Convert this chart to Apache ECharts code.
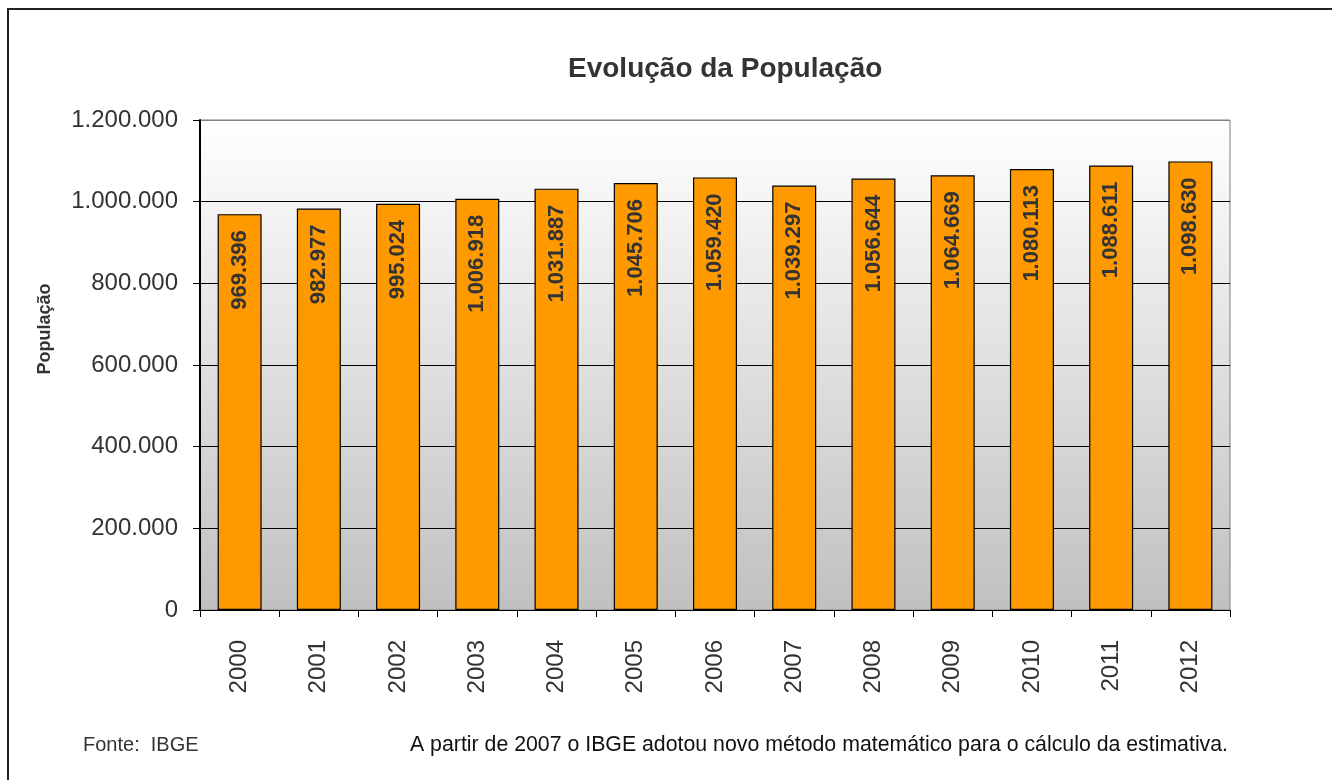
<!DOCTYPE html>
<html>
<head>
<meta charset="utf-8">
<script src="https://cdn.jsdelivr.net/npm/echarts@6/dist/echarts.min.js"></script>
<style>
  html, body { margin: 0; padding: 0; background: #fff; }
  #chart { width: 1332px; height: 780px; }
</style>
</head>
<body>
<div id="chart"></div>
<script>
const years = ['2000', '2001', '2002', '2003', '2004', '2005', '2006', '2007', '2008', '2009', '2010', '2011', '2012']
const population = [969396, 982977, 995024, 1006918, 1031887, 1045706, 1059420, 1039297, 1056644, 1064669, 1080113, 1088611, 1098630]

const titleText = 'Evolução da População'
const axisName = 'População'
const sourceNote = 'Fonte:  IBGE'
const methodNote = 'A partir de 2007 o IBGE adotou novo método matemático para o cálculo da estimativa.'

// 1098630 -> "1.098.630"
const dots = (n) => String(Math.round(n)).replace(/\B(?=(\d{3})+(?!\d))/g, '.')

const font = 'Liberation Sans, Arial, sans-serif'
const chart = echarts.init(document.getElementById('chart'), null, { renderer: 'canvas' })

chart.setOption({
  animation: false,
  backgroundColor: '#fff',
  title: {
    text: titleText,
    left: 563,
    top: 50,
    textStyle: { fontFamily: font, fontSize: 28, fontWeight: 'bold', color: '#333' },
  },
  grid: {
    left: 200,
    right: 102,
    top: 120,
    bottom: 170,
    show: true,
    borderColor: '#808080',
    borderWidth: 1,
    backgroundColor: new echarts.graphic.LinearGradient(0, 0, 0, 1, [
      { offset: 0, color: '#ffffff' },
      { offset: 1, color: '#c0c0c0' },
    ]),
  },
  xAxis: {
    type: 'category',
    data: years,
    boundaryGap: true,
    axisLine: { show: true, lineStyle: { color: '#000', width: 1 } },
    axisTick: { show: true, length: 7, alignWithLabel: false, lineStyle: { color: '#000' } },
    axisLabel: { rotate: 90, margin: 30, fontFamily: font, fontSize: 24, color: '#333' },
    splitLine: { show: false },
  },
  yAxis: {
    type: 'value',
    min: 0,
    max: 1200000,
    interval: 200000,
    axisLine: { show: true, lineStyle: { color: '#000', width: 2 } },
    axisTick: { show: true, length: 7, lineStyle: { color: '#000' } },
    axisLabel: { margin: 22, fontFamily: font, fontSize: 24, color: '#333', formatter: (v) => dots(v) },
    splitLine: {
      show: true,
      lineStyle: { color: ['#000', '#000', '#000', '#000', '#000', '#000', '#808080'], width: 1 },
    },
  },
  series: [
    {
      type: 'bar',
      data: population,
      barWidth: 44,
      itemStyle: { color: '#ff9900', borderColor: '#000', borderWidth: 1.2 },
      label: {
        show: true,
        position: 'insideTop',
        rotate: 90,
        align: 'right',
        verticalAlign: 'middle',
        distance: 16,
        fontFamily: font,
        fontSize: 22,
        fontWeight: 'bold',
        color: '#333',
        formatter: (p) => dots(p.value),
      },
    },
  ],
  graphic: [
    {
      type: 'rect',
      shape: { x: 8, y: 9, width: 2000, height: 2000 },
      style: { fill: 'none', stroke: '#222', lineWidth: 2 },
      silent: true,
    },
    {
      type: 'text',
      x: 45,
      y: 329,
      rotation: Math.PI / 2,
      style: {
        text: axisName,
        fontFamily: font,
        fontSize: 18,
        fontWeight: 'bold',
        fill: '#333',
        align: 'center',
        verticalAlign: 'middle',
      },
    },
    {
      type: 'text',
      x: 83,
      y: 745,
      style: { text: sourceNote, fontFamily: font, fontSize: 20, fill: '#333', verticalAlign: 'middle' },
    },
    {
      type: 'text',
      x: 410,
      y: 745,
      style: { text: methodNote, fontFamily: font, fontSize: 21.3, fill: '#111', verticalAlign: 'middle' },
    },
  ],
})
</script>
</body>
</html>
